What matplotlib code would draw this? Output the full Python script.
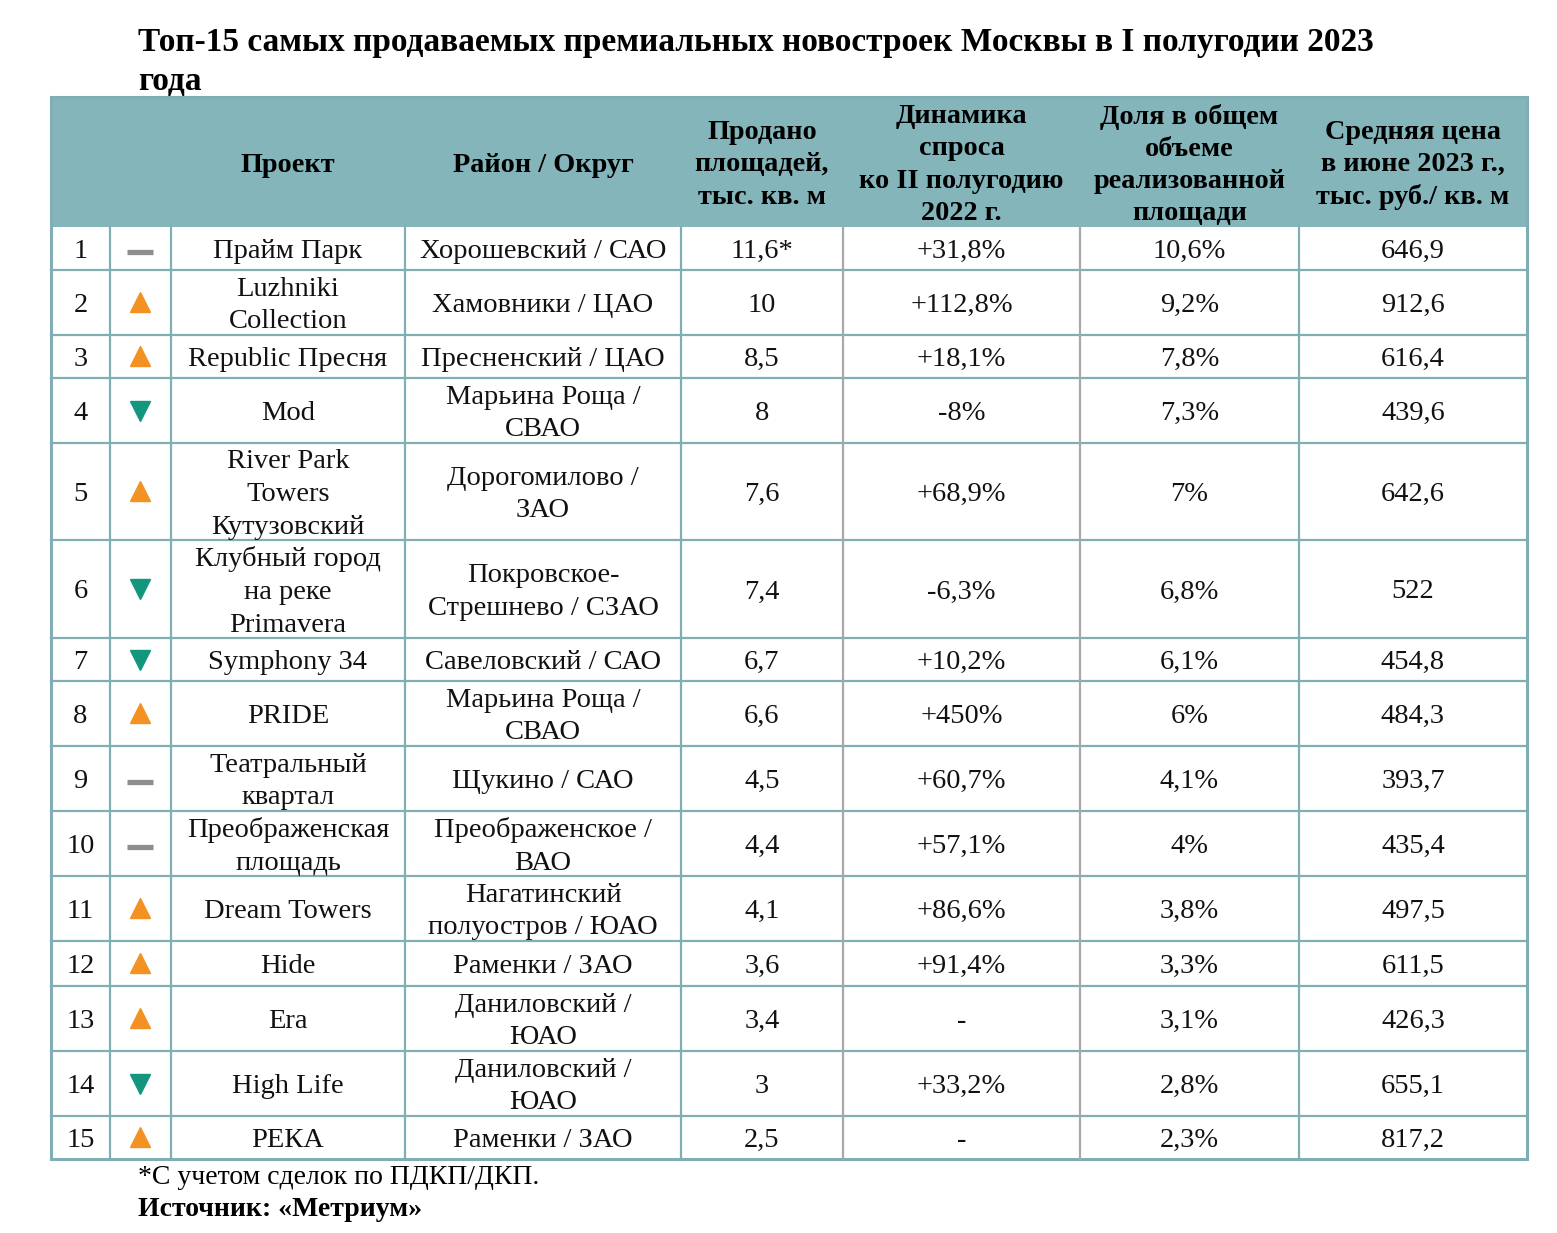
import matplotlib.pyplot as plt
from matplotlib.patches import Rectangle

plt.rcParams["font.family"] = ["Liberation Serif", "DejaVu Serif"]

# ============================================================
# Data
# ============================================================
title = "Топ-15 самых продаваемых премиальных новостроек Москвы в I полугодии 2023\nгода"
headers = ["", "", "Проект", "Район / Округ", "Продано\nплощадей,\nтыс. кв. м",
           "Динамика\nспроса\nко II полугодию\n2022 г.",
           "Доля в общем\nобъеме\nреализованной\nплощади",
           "Средняя цена\nв июне 2023 г.,\nтыс. руб./ кв. м"]
ranks = [str(i) for i in range(1, 16)]
trend = ["same", "up", "up", "down", "up", "down", "down", "up",
         "same", "same", "up", "up", "up", "down", "up"]
projects = ["Прайм Парк", "Luzhniki\nCollection", "Republic Пресня", "Mod",
            "River Park\nTowers\nКутузовский", "Клубный город\nна реке\nPrimavera",
            "Symphony 34", "PRIDE", "Театральный\nквартал", "Преображенская\nплощадь",
            "Dream Towers", "Hide", "Era", "High Life", "РЕКА"]
districts = ["Хорошевский / САО", "Хамовники / ЦАО", "Пресненский / ЦАО",
             "Марьина Роща /\nСВАО", "Дорогомилово /\nЗАО", "Покровское-\nСтрешнево / СЗАО",
             "Савеловский / САО", "Марьина Роща /\nСВАО", "Щукино / САО",
             "Преображенское /\nВАО", "Нагатинский\nполуостров / ЮАО", "Раменки / ЗАО",
             "Даниловский /\nЮАО", "Даниловский /\nЮАО", "Раменки / ЗАО"]
sold = ["11,6*", "10", "8,5", "8", "7,6", "7,4", "6,7", "6,6", "4,5", "4,4",
        "4,1", "3,6", "3,4", "3", "2,5"]
dynamics = ["+31,8%", "+112,8%", "+18,1%", "-8%", "+68,9%", "-6,3%", "+10,2%", "+450%",
            "+60,7%", "+57,1%", "+86,6%", "+91,4%", "-", "+33,2%", "-"]
share = ["10,6%", "9,2%", "7,8%", "7,3%", "7%", "6,8%", "6,1%", "6%", "4,1%", "4%",
         "3,8%", "3,3%", "3,1%", "2,8%", "2,3%"]
price = ["646,9", "912,6", "616,4", "439,6", "642,6", "522", "454,8", "484,3",
         "393,7", "435,4", "497,5", "611,5", "426,3", "655,1", "817,2"]
footnote = "*С учетом сделок по ПДКП/ДКП."
source = "Источник: «Метриум»"

# ============================================================
# Layout (pixels)
# ============================================================
W, H = 1557, 1233
col_x = [51, 110, 171, 405, 681, 843, 1080, 1299, 1527]
header_top, header_bot = 97, 227
row_y = [227, 270, 335, 378, 443, 540, 638, 681, 746, 811, 876, 941, 986, 1051, 1116, 1159]

TEAL = "#84B5BB"
LINE = "#7FAFB5"
GRAY_LINE = "#A8A8A8"
ORANGE = "#F39223"
GREEN = "#13967E"
DASH = "#8E8E8E"
FS = 20.5
HFS = 20.3
LS = 1.42

fig = plt.figure(figsize=(W / 100, H / 100), dpi=100)
ax = fig.add_axes([0, 0, 1, 1])
ax.set_xlim(0, W)
ax.set_ylim(H, 0)
ax.axis("off")

# title
ax.text(138, 62, title, fontsize=24, fontweight="bold", ha="left", va="center",
        linespacing=1.3)

# header background
ax.add_patch(Rectangle((col_x[0], header_top), col_x[-1] - col_x[0],
                       header_bot - header_top, facecolor=TEAL, edgecolor="none"))
for j, h in enumerate(headers):
    if h:
        xc = (col_x[j] + col_x[j + 1]) / 2
        ax.text(xc, (header_top + header_bot) / 2 + 3, h, fontsize=HFS, fontweight="bold",
                ha="center", va="center", linespacing=1.38)

# body
columns = [ranks, None, projects, districts, sold, dynamics, share, price]
for i in range(len(ranks)):
    yc = (row_y[i] + row_y[i + 1]) / 2
    for j, col in enumerate(columns):
        xc = (col_x[j] + col_x[j + 1]) / 2
        if col is None:
            t = trend[i]
            if t == "up":
                ax.plot(xc, yc - 1, marker="^", markersize=14, color=ORANGE, linestyle="none")
            elif t == "down":
                ax.plot(xc, yc, marker="v", markersize=14, color=GREEN, linestyle="none")
            else:
                ax.plot([xc - 13, xc + 13], [yc + 3, yc + 3], color=DASH, linewidth=3.8,
                        solid_capstyle="butt")
            continue
        ax.text(xc, yc + 3, col[i], fontsize=FS, ha="center", va="center",
                linespacing=LS, color="#111111")

# grid lines
for y in row_y[1:-1]:
    ax.plot([col_x[0], col_x[-1]], [y, y], color=LINE, linewidth=1.6)
for k, x in enumerate(col_x[1:-1], start=1):
    c = GRAY_LINE if k in (5, 6) else LINE
    ax.plot([x, x], [row_y[0], row_y[-1]], color=c, linewidth=1.6)
# outer border
ax.add_patch(Rectangle((col_x[0], header_top), col_x[-1] - col_x[0],
                       row_y[-1] - header_top, facecolor="none", edgecolor=LINE,
                       linewidth=2.2))

# footer
ax.text(138, 1178, footnote, fontsize=20, ha="left", va="center")
ax.text(138, 1210, source, fontsize=20, fontweight="bold", ha="left", va="center")

fig.savefig("out.png", dpi=100, facecolor="white")
